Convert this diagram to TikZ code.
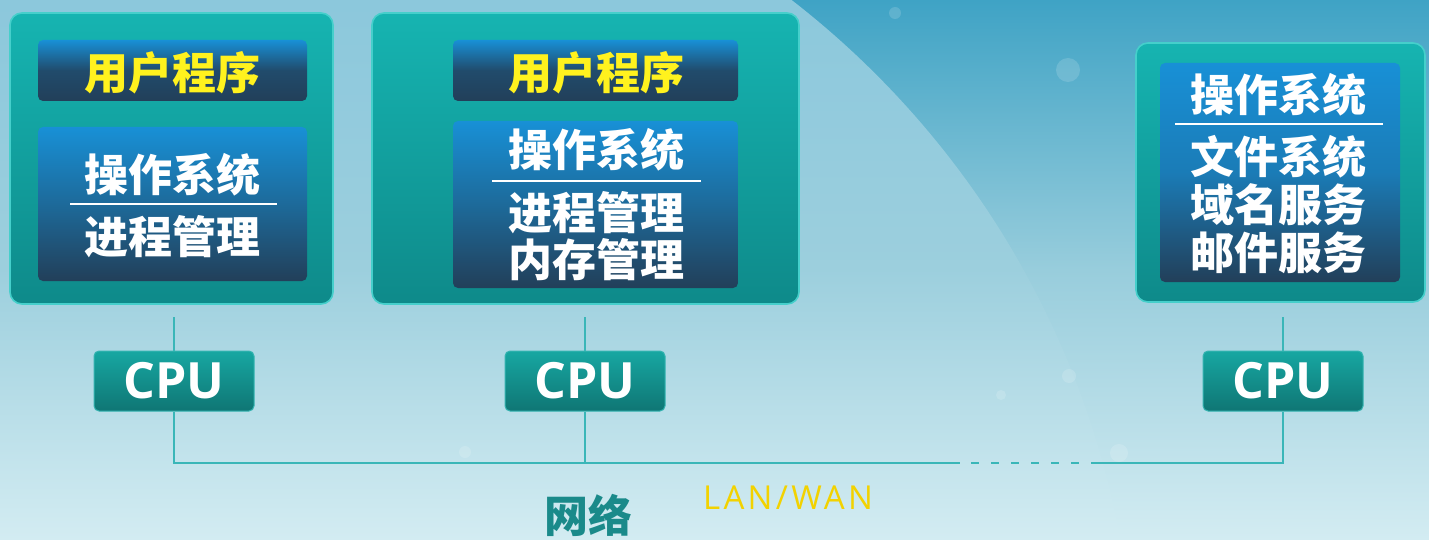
\documentclass[tikz,border=0pt]{standalone}
\usepackage{fontspec}
\setmainfont{Open Sans}
\newfontfamily\cjk{Noto Sans CJK SC}
\usetikzlibrary{calc}
\definecolor{bgTop}{HTML}{3FA3C5}
\definecolor{bgMid}{HTML}{98CDDC}
\definecolor{bgBot}{HTML}{D3ECF2}
\definecolor{tealA}{HTML}{16B4B1}
\definecolor{tealB}{HTML}{0E8A8A}
\definecolor{tealEdge}{HTML}{45CFCB}
\definecolor{blueA}{HTML}{1890D6}
\definecolor{blueM}{HTML}{1D6A9A}
\definecolor{navy}{HTML}{223F59}
\definecolor{cpuA}{HTML}{17A7A2}
\definecolor{cpuB}{HTML}{0F7674}
\definecolor{wire}{HTML}{3AB6B8}
\definecolor{yel}{HTML}{FFF21E}
\definecolor{lanyel}{HTML}{F2D200}
\definecolor{netteal}{HTML}{1A8A8A}
\tikzset{
  outerbox/.style={rounded corners=6pt, top color=tealA, bottom color=tealB, draw=tealEdge, line width=0.8pt, inner sep=0pt},
  userbox/.style={rounded corners=2.5pt, top color=blueA, bottom color=navy, middle color=navy!85!blueA, inner sep=0pt},
  osbox/.style={rounded corners=2.5pt, top color=blueA, bottom color=navy, middle color=blueM, inner sep=0pt},
  cpubox/.style={rounded corners=2.5pt, top color=cpuA, bottom color=cpuB, draw=tealEdge!70!cpuB, line width=0.5pt, inner sep=0pt, minimum width=80pt, minimum height=30pt, text=white, font=\bfseries\fontsize{25}{28}\selectfont},
  cjkw/.style={text=white, font=\cjk\bfseries\fontsize{22}{26}\selectfont, inner sep=0pt},
  cjky/.style={text=yel, font=\cjk\bfseries\fontsize{22}{26}\selectfont, inner sep=0pt},
  sepline/.style={white, line width=1pt},
  wireline/.style={wire, line width=1pt},
  bubble/.style={fill=white, fill opacity=0.15, draw=none}
}
\begin{document}
\begin{tikzpicture}[x=0.5pt,y=-0.5pt]
\useasboundingbox (0,0) rectangle (1429,540);
% background
\shade[top color=bgTop, bottom color=bgBot, middle color=bgMid] (0,0) rectangle (1429,540);
\begin{scope}
\clip (250,700) circle[radius=885];
\shade[top color=bgTop!60!white, bottom color=bgBot, middle color=bgMid!96!white] (0,0) rectangle (1429,540);
\end{scope}
\begin{scope}
\clip (0,0) rectangle (1429,540);
\fill[bubble] (895,13) circle[radius=6];
\fill[bubble] (1068,70) circle[radius=12];
\fill[bubble] (1069,376) circle[radius=7];
\fill[bubble] (1001,395) circle[radius=5];
\fill[bubble] (1119,453) circle[radius=9];
\fill[bubble] (465,452) circle[radius=6];
\end{scope}

% outer boxes
\node[outerbox, minimum width=161.5pt, minimum height=145.5pt] (o1) at (171.5,158.5) {};
\node[outerbox, minimum width=213.5pt, minimum height=145.5pt] (o2) at (585.5,158.5) {};
\node[outerbox, minimum width=144.5pt, minimum height=129.5pt] (o3) at (1280.5,172.5) {};

% inner boxes
\node[userbox, minimum width=134.5pt, minimum height=30.5pt] (u1) at (172.5,70.5) {};
\node[osbox, minimum width=134.5pt, minimum height=77pt] (s1) at (172.5,204) {};
\node[userbox, minimum width=142.5pt, minimum height=30.5pt] (u2) at (595.5,70.5) {};
\node[osbox, minimum width=142.5pt, minimum height=83.5pt] (s2) at (595.5,204.5) {};
\node[osbox, minimum width=120pt, minimum height=109.5pt, middle color=blueA!75!navy] (s3) at (1280,172.5) {};

% texts box 1
\node[cjky] (u1t) at (172,73) {用户程序};
\node[cjkw] (s1a) at (172,175) {操作系统};
\node[cjkw] (s1b) at (172,237) {进程管理};
\coordinate (l1a) at (70,204);
\coordinate (l1b) at (277,204);
\draw[sepline] (l1a) -- (l1b);

% texts box 2
\node[cjky] (u2t) at (596,73) {用户程序};
\node[cjkw] (s2a) at (596,150) {操作系统};
\node[cjkw] (s2b) at (596,213) {进程管理};
\node[cjkw] (s2c) at (596,260) {内存管理};
\coordinate (l2a) at (492,181);
\coordinate (l2b) at (701,181);
\draw[sepline] (l2a) -- (l2b);

% texts box 3
\node[cjkw] (s3a) at (1278,95) {操作系统};
\node[cjkw] (s3b) at (1278,157) {文件系统};
\node[cjkw] (s3c) at (1278,205) {域名服务};
\node[cjkw] (s3d) at (1278,253) {邮件服务};
\coordinate (l3a) at (1175,124);
\coordinate (l3b) at (1383,124);
\draw[sepline] (l3a) -- (l3b);

% CPUs
\node[cpubox] (c1) at (174,381) {CPU};
\node[cpubox] (c2) at (585,381) {CPU};
\node[cpubox] (c3) at (1283,381) {CPU};

% wiring
\coordinate (t1) at (174,317);
\coordinate (t2) at (585,317);
\coordinate (t3) at (1283,317);
\coordinate (b1) at (174,463);
\coordinate (b2) at (585,463);
\coordinate (b3) at (1283,463);
\coordinate (d1) at (960,463);
\coordinate (d2) at (1093,463);
\draw[wireline] (t1) -- (c1.north);
\draw[wireline] (t2) -- (c2.north);
\draw[wireline] (t3) -- (c3.north);
\draw[wireline] (c1.south) -- (b1) -- (b2) -- (d1);
\draw[wireline] (c2.south) -- (b2);
\draw[wireline, dash pattern=on 4pt off 6pt, dash phase=4.5pt] (d1) -- (d2);
\draw[wireline] (d2) -- (b3) -- (c3.south);

% labels
\node[text=netteal, font=\cjk\bfseries\fontsize{22}{26}\selectfont, inner sep=0pt] (net) at (588,515) {网络};
\node[text=lanyel, font=\addfontfeature{LetterSpace=10}\fontsize{16.5}{20}\selectfont, inner sep=0pt] (lan) at (788,498) {LAN/WAN};
\end{tikzpicture}
\end{document}
